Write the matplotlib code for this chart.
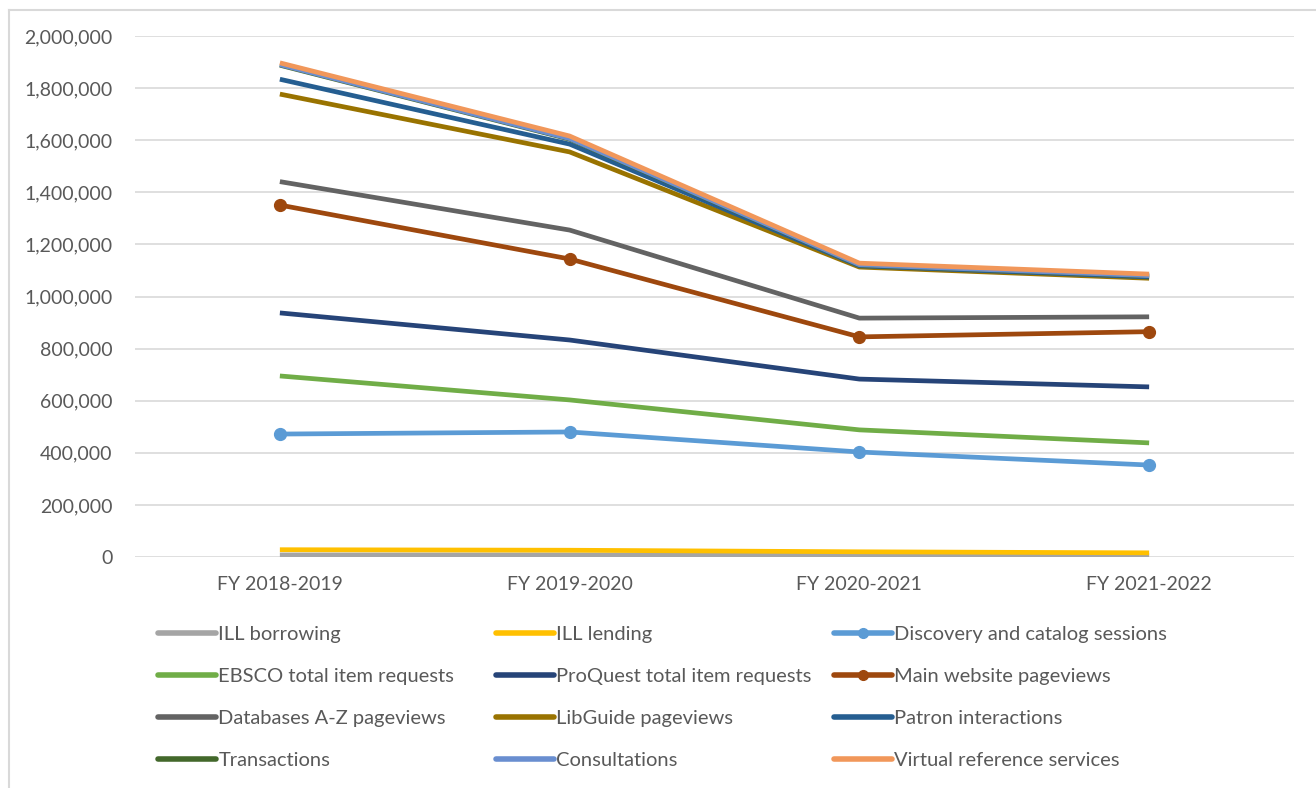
import matplotlib.pyplot as plt
from matplotlib.lines import Line2D
from matplotlib.ticker import FuncFormatter

# fiscal years on the x axis
years = ['FY 2018-2019', 'FY 2019-2020', 'FY 2020-2021', 'FY 2021-2022']

# stacked levels of each usage series
ill_borrowing = [8000, 8000, 6000, 6000]
ill_lending = [28000, 26000, 20000, 16000]
discovery_sessions = [472000, 480000, 403000, 353000]
ebsco_requests = [695000, 603000, 488000, 438000]
proquest_requests = [937000, 833000, 683000, 653000]
website_pageviews = [1351000, 1144000, 845000, 865000]
databases_pageviews = [1441000, 1255000, 917000, 922000]
libguide_pageviews = [1777000, 1555000, 1113000, 1070000]
patron_interactions = [1834000, 1585000, 1118000, 1075000]
transactions = [1888000, 1604000, 1121000, 1079000]
consultations = [1890000, 1606000, 1122000, 1080000]
virtual_reference = [1897000, 1616000, 1128000, 1086000]

series = [
    ('ILL borrowing', ill_borrowing, '#A5A5A5', None),
    ('ILL lending', ill_lending, '#FFC000', None),
    ('Discovery and catalog sessions', discovery_sessions, '#5B9BD5', 'o'),
    ('EBSCO total item requests', ebsco_requests, '#70AD47', None),
    ('ProQuest total item requests', proquest_requests, '#264478', None),
    ('Main website pageviews', website_pageviews, '#9E480E', 'o'),
    ('Databases A-Z pageviews', databases_pageviews, '#636363', None),
    ('LibGuide pageviews', libguide_pageviews, '#997300', None),
    ('Patron interactions', patron_interactions, '#255E91', None),
    ('Transactions', transactions, '#43682B', None),
    ('Consultations', consultations, '#698ED0', None),
    ('Virtual reference services', virtual_reference, '#F1975A', None),
]

plt.rcParams['font.family'] = ['Lato', 'DejaVu Sans']
text_color = '#595959'
grid_color = '#D9D9D9'

W, H = 1316, 788
fig = plt.figure(figsize=(W / 100, H / 100), dpi=100)
ax = fig.add_axes([135 / W, 1 - 557 / H, (1294 - 135) / W, (557 - 36) / H])

x = list(range(len(years)))
handles = []
for name, vals, color, marker in series:
    line, = ax.plot(x, vals, color=color, lw=3.4, marker=marker, ms=8.5,
                    solid_capstyle='butt', label=name, zorder=3)
    handles.append(line)

ax.set_xlim(-0.5, len(years) - 0.5)
ax.set_ylim(0, 2000000)
ax.set_yticks(range(0, 2000001, 200000))
ax.yaxis.set_major_formatter(FuncFormatter(lambda v, p: f'{int(v):,}'))
ax.set_xticks(x)
ax.set_xticklabels(years)
ax.tick_params(length=0, labelsize=14, colors=text_color)
ax.tick_params(axis='y', pad=16)
ax.tick_params(axis='x', pad=14)
ax.grid(axis='y', color=grid_color, lw=1.2)
ax.set_axisbelow(True)
for s in ax.spines.values():
    s.set_visible(False)

# legend: three columns, each its own box so the columns sit where they should
col_x = [158, 496, 834]
for c in range(3):
    hs = []
    for r in range(4):
        h = handles[r * 3 + c]
        hs.append(Line2D([], [], color=h.get_color(), lw=4, marker=h.get_marker(),
                         ms=7, solid_capstyle='round', label=h.get_label()))
    fig.legend(handles=hs, loc='upper left', bbox_to_anchor=(col_x[c] / W, 1 - 626 / H),
               frameon=False, fontsize=14.5, handlelength=2.9, handletextpad=0.1,
               labelspacing=1.23, borderpad=0, borderaxespad=0, labelcolor=text_color)

# chart border (top and left edges)
fig.add_artist(Line2D([9 / W, 9 / W], [0, 1 - 10 / H], color=grid_color, lw=1.5))
fig.add_artist(Line2D([9 / W, 1], [1 - 10 / H, 1 - 10 / H], color=grid_color, lw=1.5))

fig.savefig('out.png', dpi=100)
